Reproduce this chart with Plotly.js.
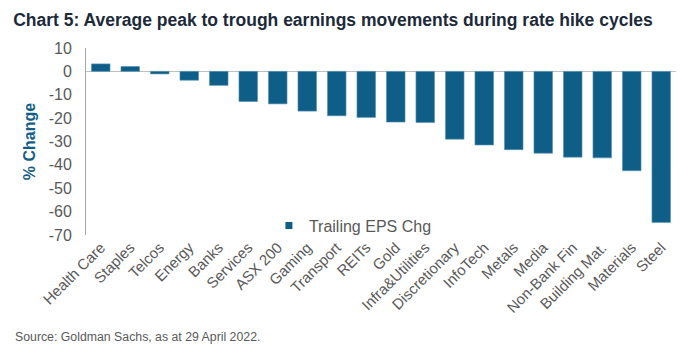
<!DOCTYPE html>
<html>
<head>
<meta charset="utf-8">
<script src="https://cdn.plot.ly/plotly-3.0.1.min.js"></script>
<style>html,body{margin:0;padding:0;background:#fff;}#chart{width:691px;height:355px;}</style>
</head>
<body>
<div id="chart"></div>
<script>
const categories = ["Health Care","Staples","Telcos","Energy","Banks","Services","ASX 200","Gaming","Transport","REITs","Gold","Infra&Utilities","Discretionary","InfoTech","Metals","Media","Non-Bank Fin","Building Mat.","Materials","Steel"];
const trailingEpsChg = [3.2, 2.1, -1.1, -3.8, -6.0, -12.9, -13.9, -17.0, -19.0, -19.7, -21.7, -21.9, -29.0, -31.5, -33.5, -35.0, -36.7, -37.0, -42.5, -64.6];
const seriesName = "Trailing EPS Chg";
const yTicks = [10, 0, -10, -20, -30, -40, -50, -60, -70];

const font = "Liberation Sans, Arial, Helvetica, sans-serif";
const barColor = "#0f5e88";
const data = [{
  type: "bar",
  x: categories,
  y: trailingEpsChg,
  name: seriesName,
  marker: {color: barColor, line: {color: "#5b93b5", width: 0.6}},
  showlegend: false
}, {
  type: "scatter",
  mode: "markers",
  x: [null], y: [null],
  name: seriesName,
  marker: {symbol: "square", size: 7, color: barColor},
  showlegend: true
}];
const layout = {
  width: 691, height: 355,
  margin: {l: 86, r: 15, t: 48, b: 120},
  paper_bgcolor: "#fff", plot_bgcolor: "#fff",
  font: {family: font, color: "#595959"},
  bargap: 0.37,
  title: {text: "<b>Chart 5: Average peak to trough earnings movements during rate hike cycles</b>",
    x: 0.019, xanchor: "left", y: 0.943, yanchor: "middle",
    font: {family: font, size: 17.5, color: "#1c2a3a"}},
  xaxis: {type: "category", tickangle: -45, tickfont: {size: 15, color: "#595959"},
    showline: false, ticks: "", showgrid: false, zeroline: false, automargin: false},
  yaxis: {range: [-70, 10], tickvals: yTicks, ticktext: yTicks.map(String),
    tickfont: {size: 16, color: "#595959"}, showgrid: false, ticklabelstandoff: 10,
    showline: true, linecolor: "#a6a6a6", linewidth: 1, ticks: "",
    zeroline: true, zerolinecolor: "#c0c0c0", zerolinewidth: 1.5,
    title: {text: "<b>% Change</b>", font: {size: 16, color: "#135e88"}, standoff: 9},
    automargin: false},
  legend: {x: 0.31, xanchor: "left", y: 0.05, yanchor: "middle", bgcolor: "rgba(0,0,0,0)",
    font: {size: 16, color: "#595959"}, itemwidth: 30},
  annotations: [{text: "Source: Goldman Sachs, as at 29 April 2022.", xref: "paper", yref: "paper",
    x: -0.124, xanchor: "left", y: -0.545, yanchor: "middle", showarrow: false,
    font: {size: 12.3, color: "#595959"}}]
};
Plotly.newPlot("chart", data, layout, {displayModeBar: false, staticPlot: true});
</script>
</body>
</html>
